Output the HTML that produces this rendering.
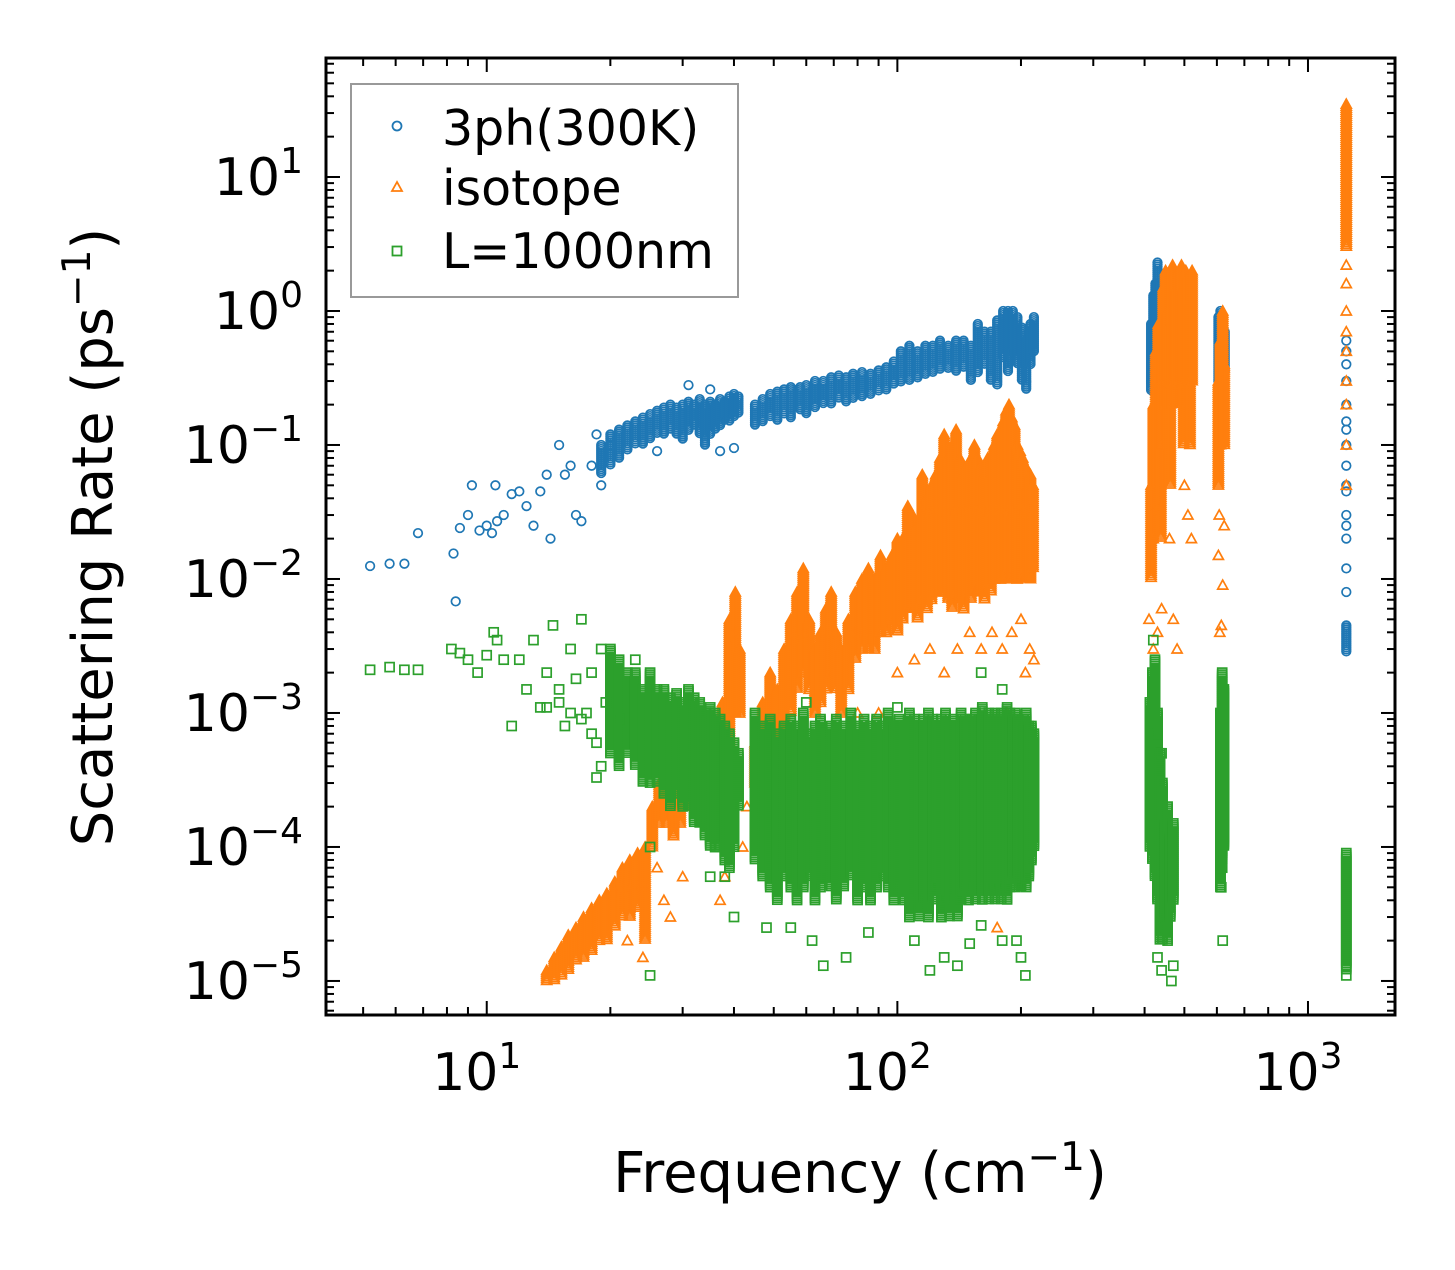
<!DOCTYPE html>
<html><head><meta charset="utf-8"><style>
html,body{margin:0;padding:0;background:#fff}
svg text{font-family:"DejaVu Sans","Liberation Sans",sans-serif;fill:#000}
</style></head><body>
<svg id="chart" width="1455" height="1265" viewBox="0 0 1455 1265" xmlns="http://www.w3.org/2000/svg">
<g id="marks"></g>
<g id="axes"></g>
<g id="legend">
<rect x="351" y="84" width="387" height="213" fill="#fff" stroke="#999" stroke-width="2"/>
<g><circle cx="397" cy="126" r="4.5" fill="none" stroke="#1f77b4" stroke-width="1.8"/><text x="442" y="145" font-size="49">3ph(300K)</text></g>
<g><polygon points="397,182 392,191 402,191" fill="none" stroke="#ff7f0e" stroke-width="1.8"/><text x="442" y="205" font-size="49">isotope</text></g>
<g><rect x="392.5" y="246.5" width="9" height="9" fill="none" stroke="#2ca02c" stroke-width="1.8"/><text x="442" y="268" font-size="49">L=1000nm</text></g>
</g>
<text transform="translate(112,537) rotate(-90)" text-anchor="middle" font-size="56">Scattering Rate (ps<tspan dy="-22" font-size="39">−1</tspan><tspan dy="22">)</tspan></text>
<text x="860" y="1192" text-anchor="middle" font-size="56">Frequency (cm<tspan dy="-22" font-size="39">−1</tspan><tspan dy="22">)</tspan></text>
</svg>
<script>
// ---- data: columns are [freq, lowRate, highRate] (dense clusters), singles are [freq, rate]
const xTickValues=[10,100,1000];
const xTickLabels=["1","2","3"];
const yTickValues=[10,1,0.1,0.01,0.001,0.0001,0.00001];
const yTickLabels=["1","0","−1","−2","−3","−4","−5"];

const blueCols=[[19,0.06,0.1],[20,0.07,0.12],[21,0.08,0.13],[22,0.09,0.14],[23,0.1,0.15],[24,0.1,0.16],[25,0.11,0.17],[26,0.12,0.18],[27,0.12,0.19],[28,0.13,0.2],[29,0.12,0.19],[30,0.11,0.2],[31,0.13,0.21],[32,0.14,0.2],[33,0.12,0.22],[34,0.1,0.2],[35,0.12,0.21],[36,0.13,0.2],[37,0.14,0.22],[38,0.15,0.21],[39,0.15,0.23],[40,0.16,0.24],[41,0.17,0.23],
[45,0.14,0.2],[47,0.15,0.22],[49,0.16,0.24],[51,0.15,0.25],[53,0.17,0.26],[55,0.16,0.27],[58,0.18,0.27],[60,0.17,0.28],[63,0.19,0.3],[66,0.2,0.3],[69,0.2,0.32],[72,0.22,0.33],[75,0.21,0.32],[78,0.22,0.34],[82,0.23,0.35],[86,0.24,0.34],[90,0.25,0.36],[94,0.26,0.38],[98,0.28,0.42],[102,0.29,0.5],[107,0.3,0.55],[112,0.32,0.5],[117,0.33,0.55],[122,0.35,0.55],[127,0.36,0.6],[133,0.37,0.55],[139,0.35,0.6],[145,0.38,0.6],[151,0.3,0.55],[157,0.35,0.8],[163,0.4,0.7],[169,0.3,0.7],[175,0.28,0.85],[181,0.45,1.0],[186,0.35,1.0],[191,0.5,1.0],[196,0.4,0.9],[201,0.3,0.75],[206,0.26,0.6],[211,0.4,0.8],[215,0.5,0.9],
[415,0.25,0.8],[420,0.35,1.3],[425,0.5,1.6],[430,0.6,2.3],[436,0.45,1.5],[442,0.35,1.0],[450,0.45,1.3],[458,0.4,0.9],[605,0.3,0.9],[612,0.35,1.0],[620,0.4,0.9],[627,0.35,0.7],[1240,0.0028,0.0045]];
const blueSingles=[[5.2,0.0125],[5.8,0.013],[6.3,0.013],[6.8,0.022],[8.3,0.0155],[8.4,0.0068],[8.6,0.024],[9,0.03],[9.2,0.05],[9.6,0.023],[10,0.025],[10.3,0.022],[10.5,0.05],[10.6,0.027],[11,0.03],[11.5,0.043],[12,0.045],[12.5,0.035],[13,0.025],[13.5,0.045],[14,0.06],[14.3,0.02],[15,0.1],[15.5,0.06],[16,0.07],[16.5,0.03],[17,0.027],[18,0.07],[18.5,0.12],[19,0.05],[20,0.1],[31,0.28],[35,0.26],[37,0.09],[40,0.095],[26,0.09],
[1240,0.008],[1240,0.012],[1240,0.02],[1240,0.03],[1240,0.05],[1240,0.07],[1240,0.1],[1240,0.15],[1240,0.2],[1240,0.3],[1240,0.4],[1240,0.5],[1240,0.6],[1240,0.025],[1240,0.045],[1240,0.13]];

const orangeCols=[[14,1e-5,1.2e-5],[14.6,1e-5,1.5e-5],[15.2,1.1e-5,1.8e-5],[15.8,1.2e-5,2.2e-5],[16.5,1.4e-5,2.5e-5],[17.2,1.5e-5,3e-5],[18,1.7e-5,3.5e-5],[18.8,2e-5,4e-5],[19.6,2e-5,4.5e-5],[20.5,2.5e-5,5.5e-5],[21.4,3e-5,7e-5],[22.3,3e-5,8e-5],[23.3,3.5e-5,9e-5],[24.3,2e-5,1e-4],
[25.3,1e-4,2e-4],[26.3,1.5e-4,3e-4],[27.4,1.5e-4,3e-4],[28.5,1.2e-4,2.5e-4],[29.6,1.5e-4,3e-4],[30.8,2e-4,4e-4],[32,2.5e-4,5e-4],[33.3,3e-4,7e-4],[34.6,2e-4,6e-4],[36,3e-4,8e-4],[37.5,4e-4,1.2e-3],[39,5e-4,5e-3],[40.3,1e-3,8e-3],[41.3,1e-3,3e-3],
[45,3e-4,6e-4],[47,4e-4,1.2e-3],[49,5e-4,2e-3],[51,6e-4,1.5e-3],[53,7e-4,3e-3],[55,1e-3,5e-3],[57,1.5e-3,8e-3],[59,2e-3,0.012],[61,1.5e-3,5e-3],[63,1e-3,3e-3],[65,1.2e-3,4e-3],[67,1.5e-3,6e-3],[69,2e-3,8e-3],[71,1.5e-3,4e-3],[73,1e-3,3e-3],
[76,1.5e-3,5e-3],[79,2.5e-3,8e-3],[82,3e-3,0.01],[85,3e-3,0.012],[88,3e-3,0.01],[91,4e-3,0.015],[94,4e-3,0.012],[97,5e-3,0.015],[100,4e-3,0.02],[103,5e-3,0.02],[106,6e-3,0.035],[109,6e-3,0.03],[112,5e-3,0.025],[115,7e-3,0.06],[118,6e-3,0.04],[121,7e-3,0.05],[124,8e-3,0.06],[127,8e-3,0.08],[130,8e-3,0.12],[133,7e-3,0.08],[136,6e-3,0.1],[139,8e-3,0.13],[142,7e-3,0.08],[145,6e-3,0.06],[148,8e-3,0.07],[151,7e-3,0.08],[154,8e-3,0.1],[157,9e-3,0.08],[160,8e-3,0.07],[163,7e-3,0.06],[166,9e-3,0.08],[169,8e-3,0.06],[172,1e-2,0.1],[175,1e-2,0.12],[178,1e-2,0.1],[181,0.01,0.15],[184,0.01,0.18],[187,0.012,0.2],[190,0.01,0.16],[193,0.012,0.14],[196,0.01,0.1],[199,0.01,0.09],[202,0.01,0.08],[205,0.012,0.07],[208,0.01,0.05],[211,0.01,0.06],[214,0.012,0.05],
[415,0.01,0.05],[420,0.02,0.2],[426,0.05,0.5],[432,0.05,0.8],[438,0.02,0.3],[444,0.1,1.5],[450,0.2,2.0],[456,0.1,1.0],[462,0.05,0.8],[468,0.2,2.2],[474,0.3,2.0],[480,0.2,1.5],[486,0.3,2.0],[492,0.2,2.2],[498,0.1,1.5],[504,0.3,2.0],[510,0.2,1.8],[516,0.1,1.2],[522,0.3,2.0],
[605,0.05,0.3],[612,0.1,0.6],[620,0.3,1.0],[625,0.1,0.4],[1240,3,35]];
const orangeSingles=[[37,4e-5],[38,6e-5],[27,4e-5],[28,3e-5],[30,6e-5],[24,1.5e-5],[22,2e-5],[26,7e-5],[42,1e-4],[43,2e-4],[50,3e-4],[60,6e-4],[72,7e-4],[80,1e-3],[90,1e-3],[100,2e-3],[110,2.5e-3],[120,3e-3],[130,2e-3],[140,3e-3],[150,4e-3],[160,3e-3],[170,4e-3],[180,3e-3],[190,4e-3],[200,5e-3],[210,3e-3],[215,2.5e-3],[175,2.5e-5],[165,3e-4],[185,1e-3],[205,2e-3],
[410,0.005],[420,0.003],[430,0.004],[440,0.006],[460,0.02],[470,0.005],[480,0.003],[500,0.05],[510,0.03],[520,0.02],[605,0.015],[610,0.004],[615,0.0045],[620,0.009],[625,0.025],[608,0.03],
[1240,0.05],[1240,0.1],[1240,0.2],[1240,0.3],[1240,0.5],[1240,0.7],[1240,1.0],[1240,1.6],[1240,2.2]];

const greenCols=[[20,5e-4,3e-3],[21,4e-4,2.5e-3],[22,5e-4,2e-3],[23,4e-4,2e-3],[24,3e-4,1.5e-3],[25,3e-4,2e-3],[26,3e-4,1.5e-3],[27,2.5e-4,1.5e-3],[28,2e-4,1.3e-3],[29,2.5e-4,1.4e-3],[30,2e-4,1.2e-3],[31,2e-4,1.5e-3],[32,1.5e-4,1.3e-3],[33,1.5e-4,1.2e-3],[34,1.2e-4,1e-3],[35,1e-4,1.1e-3],[36,1e-4,1e-3],[37,1e-4,9e-4],[38,8e-5,8e-4],[39,7e-5,7e-4],[40,1e-4,6e-4],[41,2e-4,5e-4],
[45,8e-5,1e-3],[47,6e-5,8e-4],[49,5e-5,9e-4],[51,4e-5,7e-4],[53,6e-5,8e-4],[55,5e-5,9e-4],[57,4e-5,8e-4],[59,5e-5,1e-3],[61,6e-5,7e-4],[63,4e-5,8e-4],[65,5e-5,9e-4],[67,6e-5,7e-4],[69,5e-5,8e-4],[71,4e-5,9e-4],[74,5e-5,8e-4],[77,6e-5,1e-3],[80,4e-5,8e-4],[83,5e-5,9e-4],[86,4e-5,8e-4],[89,5e-5,9e-4],[92,6e-5,8e-4],[95,5e-5,1e-3],[98,4e-5,8e-4],[101,5e-5,9e-4],[104,4e-5,8e-4],[107,3e-5,1e-3],[110,4e-5,9e-4],[113,3e-5,8e-4],[116,4e-5,9e-4],[119,3e-5,1e-3],[122,4e-5,9e-4],[125,5e-5,8e-4],[128,3e-5,9e-4],[131,4e-5,1e-3],[134,3e-5,8e-4],[137,4e-5,9e-4],[140,3e-5,8e-4],[143,4e-5,1e-3],[146,5e-5,9e-4],[149,4e-5,8e-4],[152,5e-5,9e-4],[155,4e-5,1e-3],[158,5e-5,9e-4],[161,4e-5,1.1e-3],[164,5e-5,9e-4],[167,4e-5,1e-3],[170,5e-5,9e-4],[173,4e-5,1e-3],[176,5e-5,9e-4],[179,4e-5,1e-3],[182,5e-5,9e-4],[185,4e-5,1.1e-3],[188,5e-5,1e-3],[191,6e-5,9e-4],[194,5e-5,1e-3],[197,6e-5,9e-4],[200,5e-5,8e-4],[203,6e-5,9e-4],[206,5e-5,1e-3],[209,6e-5,8e-4],[212,8e-5,8e-4],[215,1e-4,7e-4],
[412,1e-4,1.2e-3],[418,8e-5,2e-3],[424,6e-5,2.5e-3],[430,4e-5,1e-3],[436,2e-5,5e-4],[442,2e-5,3e-4],[448,3e-5,1.5e-4],[455,2e-5,2e-4],[462,3e-5,1.2e-4],[470,4e-5,1.5e-4],
[612,5e-5,1e-3],[618,8e-5,2e-3],[624,1e-4,1.5e-3],[1240,1.2e-5,9e-5]];
const greenSingles=[[5.2,2.1e-3],[5.8,2.2e-3],[6.3,2.1e-3],[6.8,2.1e-3],[8.2,3e-3],[8.6,2.8e-3],[9,2.5e-3],[9.5,2e-3],[10,2.7e-3],[10.4,4e-3],[10.6,3.5e-3],[11,2.5e-3],[11.5,0.8e-3],[12,2.5e-3],[12.5,1.5e-3],[13,3.5e-3],[13.5,1.1e-3],[14,2e-3],[14.5,4.5e-3],[15,1.5e-3],[15.5,0.8e-3],[16,3e-3],[16.5,1.8e-3],[17,5e-3],[17.5,1e-3],[18,2e-3],[18.5,0.6e-3],[19,3e-3],[19.5,1.2e-3],[14,1.1e-3],[15,1.2e-3],[16,1e-3],[17,0.9e-3],[18,0.7e-3],[19,0.4e-3],[18.5,0.33e-3],[21,0.9e-3],[23,2.5e-3],[25,1e-4],[38,6e-5],[40,3e-5],[35,6e-5],[36,1e-4],[25,1.1e-5],
[48,2.5e-5],[55,2.5e-5],[62,2e-5],[66,1.3e-5],[75,1.5e-5],[85,2.3e-5],[110,2e-5],[120,1.2e-5],[130,1.5e-5],[140,1.3e-5],[150,1.9e-5],[160,2.6e-5],[180,2e-5],[200,1.5e-5],[205,1.1e-5],[195,2e-5],[60,1.2e-3],[100,1.1e-3],[160,2e-3],[180,1.5e-3],
[430,1.5e-5],[440,1.2e-5],[450,2.5e-5],[465,1e-5],[470,1.3e-5],[420,3.5e-3],[430,7e-4],[440,5e-4],[620,2e-5],[615,5e-5],[618,7e-5],[1240,1.1e-5]];

// ---- axes geometry
const PL=326,PR=1395,PT=58,PB=1015;
const LX0=Math.log10(4.06),LX1=Math.log10(1629);
const LY0=-5.254,LY1=1.888;
function sx(v){return PL+(Math.log10(v)-LX0)/(LX1-LX0)*(PR-PL);}
function sy(v){return PB-(Math.log10(v)-LY0)/(LY1-LY0)*(PB-PT);}
const NS="http://www.w3.org/2000/svg";
const marks=document.getElementById('marks');
function mk(tag,attrs,parent){const e=document.createElementNS(NS,tag);for(const k in attrs)e.setAttribute(k,attrs[k]);parent.appendChild(e);return e;}

function marker(kind,x,y,g){
  let e;
  if(kind==='circle'){e=mk('circle',{cx:x.toFixed(1),cy:y.toFixed(1),r:4.3},g);}
  else if(kind==='tri'){e=mk('polygon',{points:`${x.toFixed(1)},${(y-5).toFixed(1)} ${(x-5).toFixed(1)},${(y+4).toFixed(1)} ${(x+5).toFixed(1)},${(y+4).toFixed(1)}`},g);}
  else {e=mk('rect',{x:(x-4.5).toFixed(1),y:(y-4.5).toFixed(1),width:9,height:9},g);}
  
  
}
function drawSeries(name,kind,color,cols,singles){
  const g=mk('g',{fill:'none',stroke:color,'stroke-width':1.7},marks);
  
  
  cols.forEach(c=>{
    const x=sx(c[0]),y1=sy(c[2]),y0=sy(c[1]);
    for(let y=y1;y<=y0+0.1;y+=2){marker(kind,x,y,g);}
  });
  singles.forEach(p=>marker(kind,sx(p[0]),sy(p[1]),g));
}
drawSeries('series-3ph-300k','circle','#1f77b4',blueCols,blueSingles);
drawSeries('series-isotope','tri','#ff7f0e',orangeCols,orangeSingles);
drawSeries('series-l-1000nm','square','#2ca02c',greenCols,greenSingles);

// ---- axes frame & ticks
const ax=document.getElementById('axes');
const frame=mk('rect',{x:PL,y:PT,width:PR-PL,height:PB-PT,fill:'none',stroke:'#000','stroke-width':3},ax);


const tg=mk('g',{stroke:'#000','stroke-width':2},ax);


for(let d=0;d<=3;d++){for(let m=1;m<=9;m++){const v=m*Math.pow(10,d);if(v<4.06||v>1629)continue;const x=sx(v);const L=m===1?14:8;
  mk('line',{x1:x,y1:PB,x2:x,y2:PB-L},tg);mk('line',{x1:x,y1:PT,x2:x,y2:PT+L},tg);}}
for(let d=-6;d<=1;d++){for(let m=1;m<=9;m++){const v=m*Math.pow(10,d);const lv=Math.log10(v);if(lv<LY0||lv>LY1)continue;const y=sy(v);const L=m===1?14:8;
  mk('line',{x1:PL,y1:y,x2:PL+L,y2:y},tg);mk('line',{x1:PR,y1:y,x2:PR-L,y2:y},tg);}}
xTickValues.forEach((v,i)=>{
  const t=mk('text',{x:sx(v)-10,y:1090,'text-anchor':'middle','font-size':52},ax);
  
  
  t.innerHTML='10<tspan dy="-22" font-size="36">'+xTickLabels[i]+'</tspan>';
});
yTickValues.forEach((v,i)=>{
  const t=mk('text',{x:303,y:sy(v)+18,'text-anchor':'end','font-size':52},ax);
  
  
  t.innerHTML='10<tspan dy="-22" font-size="36">'+yTickLabels[i]+'</tspan>';
});
</script>
</body></html>
